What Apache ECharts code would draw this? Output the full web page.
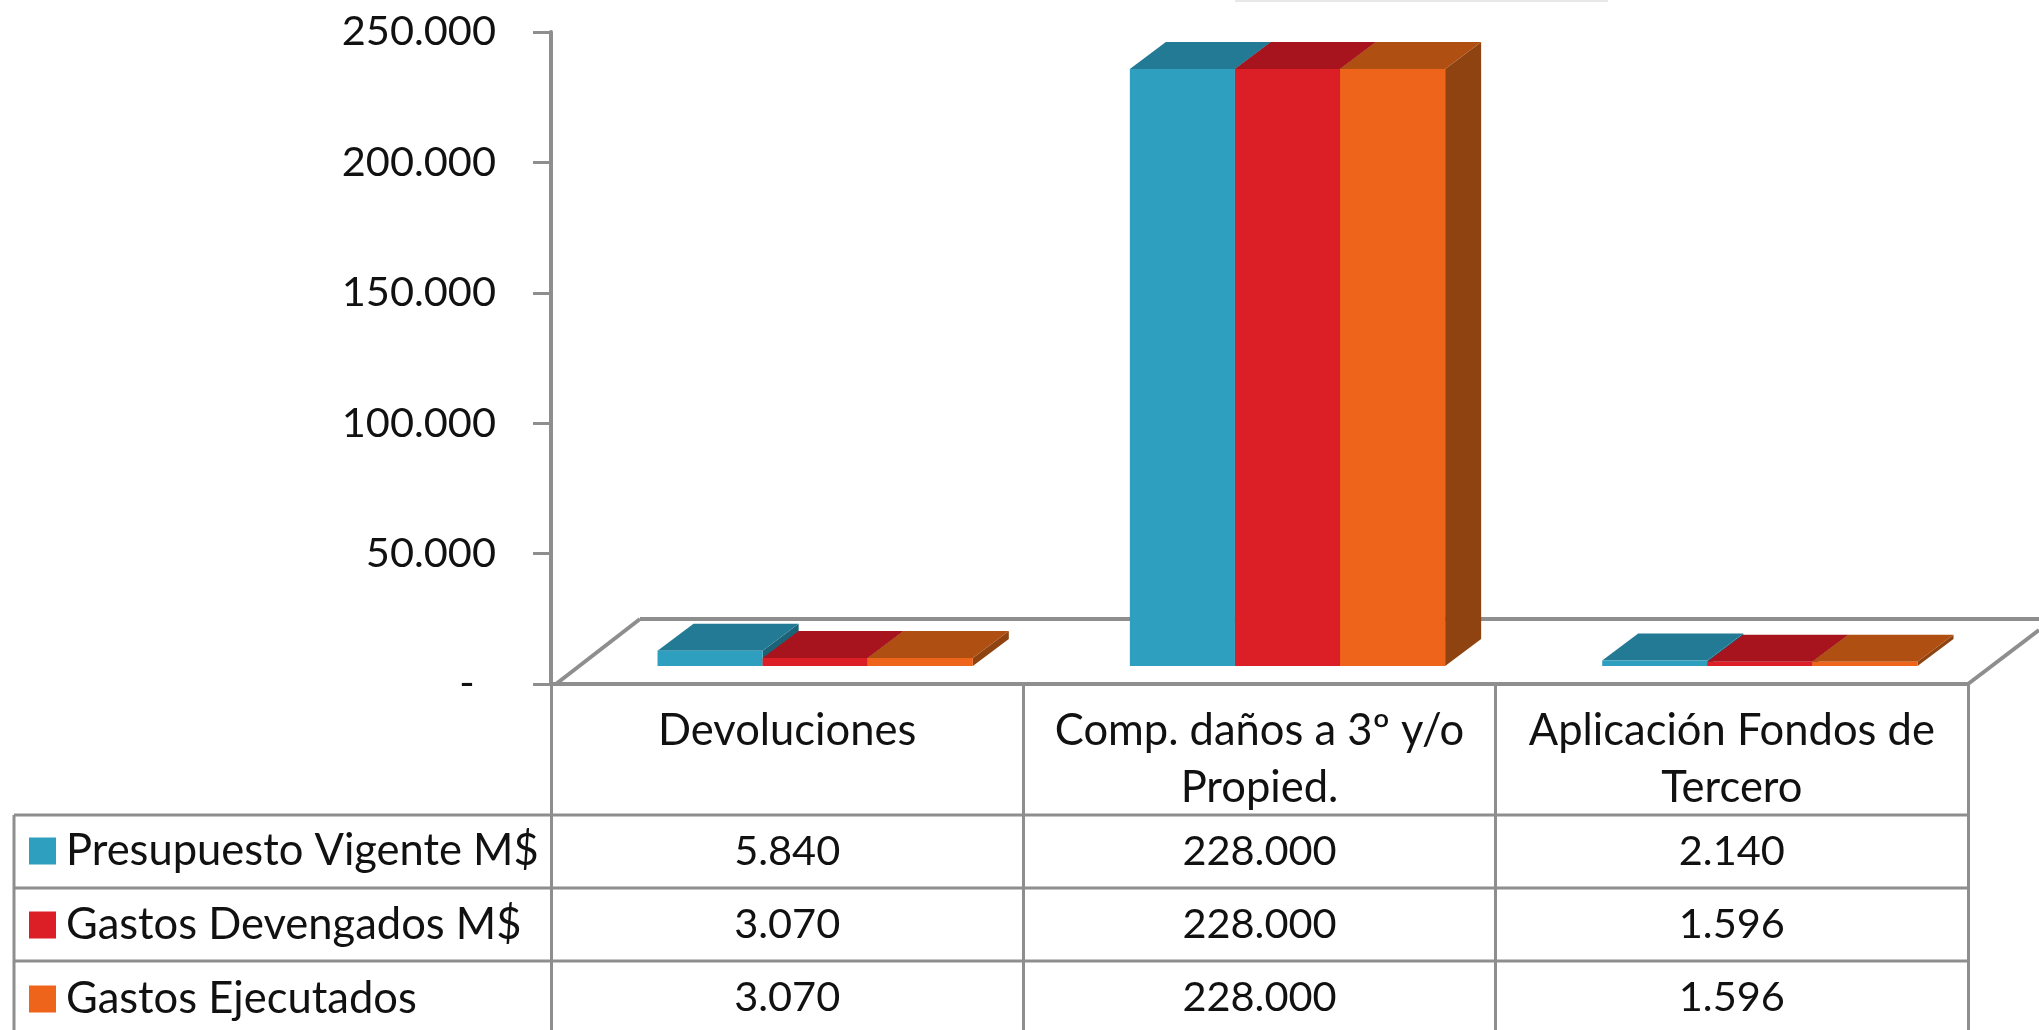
<!DOCTYPE html>
<html>
<head>
<meta charset="utf-8">
<title>Chart</title>
<style>html,body{margin:0;padding:0;background:#fff}#c{width:2039px;height:1030px}</style>
<script src="https://cdn.jsdelivr.net/npm/echarts@6/dist/echarts.min.js"></script>
</head>
<body>
<div id="c"></div>
<script>
const categories = ['Devoluciones', 'Comp. daños a 3º y/o\nPropied.', 'Aplicación Fondos de\nTercero'];
const presupuesto = [5840, 228000, 2140];
const devengados = [3070, 228000, 1596];
const ejecutados = [3070, 228000, 1596];
const seriesNames = ['Presupuesto Vigente M$', 'Gastos Devengados M$', 'Gastos Ejecutados'];
const yTicks = { min: 0, max: 250000, interval: 50000 };

const FONT = 'Lato';
const FS = 43.5;
const FN = 41.5;
const GREY = '#8e8e8e';
const TEXT = '#111111';
const faces = [
  { front: '#2E9FBF', top: '#237A94', side: '#1C6378' },
  { front: '#DC1F27', top: '#A8141D', side: '#86101A' },
  { front: '#EE641A', top: '#B04F12', side: '#8F4310' }
];
const dotted = v => String(v).replace(/\B(?=(\d{3})+$)/g, '.');

function renderBar(params, api) {
  const si = params.seriesIndex;
  const c = api.value(0), v = api.value(1);
  const band = api.size([1, 0])[0];
  const w = band * 0.2225, lift = 18, shift = 28, dx = 36, dy = 27;
  const p0 = api.coord([c, 0]), p1 = api.coord([c, v]);
  const x0 = p0[0] - 1.5 * w + shift + si * w, x1 = x0 + w;
  const yb = p0[1] - lift, yt = yb - (p0[1] - p1[1]) * 1.004;
  return {
    type: 'group',
    children: [
      { type: 'polygon', shape: { points: [[x1, yb], [x1 + dx, yb - dy], [x1 + dx, yt - dy], [x1, yt]] }, style: { fill: faces[si].side } },
      { type: 'polygon', shape: { points: [[x0, yt], [x0 + dx, yt - dy], [x1 + dx, yt - dy], [x1, yt]] }, style: { fill: faces[si].top } },
      { type: 'rect', shape: { x: x0, y: yt, width: w, height: yb - yt }, style: { fill: faces[si].front } }
    ]
  };
}
const mk = (name, vals, i) => ({
  name, type: 'custom', z: 5, renderItem: renderBar, clip: false,
  itemStyle: { color: faces[i].front },
  encode: { x: 0, y: 1 },
  data: vals.map((v, k) => [k, v])
});

const chart = echarts.init(document.getElementById('c'), null, { renderer: 'canvas' });
chart.setOption({
  animation: false,
  backgroundColor: '#ffffff',
  textStyle: { fontFamily: FONT },
  grid: { left: 551, right: 71, top: 32, bottom: 346, containLabel: false },
  legend: {
    orient: 'vertical', left: 29, top: 829, itemWidth: 27, itemHeight: 27, itemGap: 30, padding: 0,
    icon: 'rect', selectedMode: false,
    textStyle: { fontFamily: FONT, fontSize: FS, color: TEXT, padding: [0, 0, 0, 5] },
    data: seriesNames
  },
  xAxis: {
    type: 'category', data: categories, boundaryGap: true,
    axisLine: { lineStyle: { color: GREY, width: 4 } },
    axisTick: { show: true, alignWithLabel: false, length: 346, lineStyle: { color: GREY, width: 3 } },
    axisLabel: { interval: 0, margin: 18, fontFamily: FONT, fontSize: FS, color: TEXT, lineHeight: 57, verticalAlign: 'top' },
    splitLine: { show: false }
  },
  yAxis: {
    type: 'value', min: yTicks.min, max: yTicks.max, interval: yTicks.interval,
    axisLine: { show: true, lineStyle: { color: GREY, width: 4 } },
    axisTick: { show: true, length: 18, lineStyle: { color: GREY, width: 3 } },
    axisLabel: { margin: 55, padding: [5, 0, 0, 0], fontFamily: FONT, fontSize: FN, color: TEXT, formatter: v => v === 0 ? '-\u00A0\u00A0' : dotted(v) },
    splitLine: { show: false }
  },
  series: [mk(seriesNames[0], presupuesto, 0), mk(seriesNames[1], devengados, 1), mk(seriesNames[2], ejecutados, 2)]
});

const rowY = [852, 925, 998];
const rows = [presupuesto, devengados, ejecutados];
const g = [];
const line = (x1, y1, x2, y2, w) => ({ type: 'line', z: 1, shape: { x1, y1, x2, y2 }, style: { stroke: GREY, lineWidth: w } });
// floor
g.push(line(556, 684, 640, 619, 4), line(640, 619, 2039, 619, 4), line(1968, 684, 2039, 630, 4));
// table
[815, 888, 961].forEach(y => g.push(line(14, y, 1968, y, 3)));
g.push(line(14, 815, 14, 1030, 3));
// scan artefact at the top edge
g.push({ type: 'rect', z: 1, shape: { x: 1235, y: 0, width: 373, height: 2 }, style: { fill: '#e8e8e8' } });
rows.forEach((vals, r) => vals.forEach((v, k) => {
  const x = chart.convertToPixel({ xAxisIndex: 0 }, k);
  g.push({ type: 'text', z: 6, x, y: rowY[r], style: { text: dotted(v), font: FN + 'px ' + FONT, fill: TEXT, align: 'center', verticalAlign: 'middle' } });
}));
chart.setOption({ graphic: { elements: g } });
</script>
</body>
</html>
